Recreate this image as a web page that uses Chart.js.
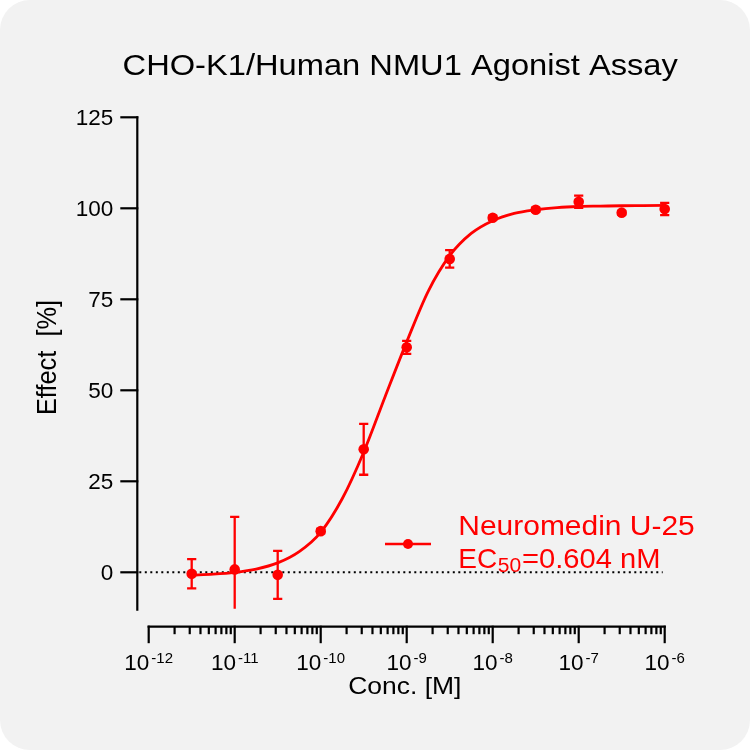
<!DOCTYPE html>
<html>
<head>
<meta charset="utf-8">
<script src="https://cdn.jsdelivr.net/npm/chart.js@4.4.1/dist/chart.umd.min.js"></script>
<style>
html,body{margin:0;padding:0;background:#ffffff;}
#wrap{width:750px;height:750px;position:relative;}
</style>
</head>
<body>
<div id="wrap"><canvas id="c" width="750" height="750"></canvas></div>
<script>
// ---------------- data ----------------
const chartTitle = 'CHO-K1/Human NMU1 Agonist Assay';
const xAxisTitle = 'Conc. [M]';
const yAxisTitle = 'Effect  [%]';
const seriesName = 'Neuromedin U-25';
const ec50Parts = ['EC', '50', '=0.604 nM'];

const concentrations = [3.162e-12, 1e-11, 3.162e-11, 1e-10, 3.162e-10, 1e-9, 3.162e-9, 1e-8, 3.162e-8, 1e-7, 3.162e-7, 1e-6];
const effectMean     = [-0.4, 0.8, -0.7, 11.3, 33.8, 61.8, 86.1, 97.4, 99.6, 101.8, 98.8, 99.8];
const effectError    = [4.0, 14.4, 6.6, 0.6, 7.0, 1.8, 2.4, 0.6, 0.6, 1.7, 0.5, 1.7];

const fitConcentrations = [3.162e-12, 5.623e-12, 1e-11, 1.778e-11, 3.162e-11, 5.623e-11, 1e-10, 1.778e-10, 3.162e-10, 5.623e-10, 1e-9, 1.778e-9, 3.162e-9, 5.623e-9, 1e-8, 1.778e-8, 3.162e-8, 5.623e-8, 1e-7, 1.778e-7, 3.162e-7, 5.623e-7, 1e-6];
const fitEffect         = [-0.8, -0.5, 0.0, 0.9, 2.6, 5.7, 11.0, 20.2, 33.0, 48.3, 63.3, 77.2, 87.0, 93.1, 96.6, 98.6, 99.6, 100.2, 100.5, 100.6, 100.7, 100.75, 100.8];

const xTickExponents = [-12, -11, -10, -9, -8, -7, -6];
const yTickValues = [0, 25, 50, 75, 100, 125];
const xMin = 1e-12, xMax = 1e-6, yMin = -10, yMax = 125;

// ---------------- styling helpers ----------------
const FONT = 'Arial, "Liberation Sans", Helvetica, sans-serif';
const RED = '#ff0000';
const INK = '#000000';

function drawText(ctx, s, x, y, size, align, sx, color) {
  ctx.save();
  ctx.font = size + 'px ' + FONT;
  ctx.fillStyle = color || INK;
  ctx.textBaseline = 'alphabetic';
  ctx.textAlign = 'left';
  const w = ctx.measureText(s).width * (sx || 1);
  let x0 = x;
  if (align === 'center') x0 = x - w / 2;
  else if (align === 'right') x0 = x - w;
  ctx.translate(x0, y);
  ctx.scale(sx || 1, 1);
  ctx.fillText(s, 0, 0);
  ctx.restore();
  return w;
}
function textWidth(ctx, s, size) {
  ctx.save(); ctx.font = size + 'px ' + FONT;
  const w = ctx.measureText(s).width; ctx.restore(); return w;
}

const backgroundPlugin = {
  id: 'bg',
  beforeDraw(chart) {
    const ctx = chart.ctx, W = chart.width, H = chart.height, r = 30;
    ctx.save();
    ctx.fillStyle = '#ffffff';
    ctx.fillRect(0, 0, W, H);
    ctx.fillStyle = '#f2f2f2';
    ctx.beginPath();
    ctx.moveTo(r, 0); ctx.lineTo(W - r, 0); ctx.arcTo(W, 0, W, r, r);
    ctx.lineTo(W, H - r); ctx.arcTo(W, H, W - r, H, r);
    ctx.lineTo(r, H); ctx.arcTo(0, H, 0, H - r, r);
    ctx.lineTo(0, r); ctx.arcTo(0, 0, r, 0, r);
    ctx.closePath(); ctx.fill();
    ctx.restore();
  }
};

const underlayPlugin = {
  id: 'underlay',
  beforeDatasetsDraw(chart) {
    const ctx = chart.ctx, xs = chart.scales.x, ys = chart.scales.y;
    const yAxisX = xs.left - 11.4;
    // dotted zero line
    ctx.save();
    ctx.strokeStyle = '#000000';
    ctx.lineWidth = 2;
    ctx.setLineDash([2, 3.5]);
    const y0 = ys.getPixelForValue(0);
    ctx.beginPath(); ctx.moveTo(yAxisX + 2, y0); ctx.lineTo(xs.right - 2, y0); ctx.stroke();
    ctx.restore();
    // error bars
    ctx.save();
    ctx.beginPath();
    ctx.rect(0, 0, chart.width, ys.getPixelForValue(yMin));
    ctx.clip();
    ctx.strokeStyle = RED; ctx.lineWidth = 2.3;
    concentrations.forEach((c, i) => {
      const px = xs.getPixelForValue(c);
      const top = ys.getPixelForValue(effectMean[i] + effectError[i]);
      const bot = ys.getPixelForValue(effectMean[i] - effectError[i]);
      ctx.beginPath();
      ctx.moveTo(px, top); ctx.lineTo(px, bot);
      ctx.moveTo(px - 4.6, top); ctx.lineTo(px + 4.6, top);
      ctx.moveTo(px - 4.6, bot); ctx.lineTo(px + 4.6, bot);
      ctx.stroke();
    });
    ctx.restore();
  }
};

const axesPlugin = {
  id: 'axes',
  afterDraw(chart) {
    const ctx = chart.ctx, xs = chart.scales.x, ys = chart.scales.y;
    const yAxisX = xs.left - 11.4;
    const xAxisY = ys.getPixelForValue(yMin) + 18;
    ctx.save();
    ctx.strokeStyle = INK; ctx.lineWidth = 2.2; ctx.lineCap = 'butt';
    // y axis line
    ctx.beginPath();
    ctx.moveTo(yAxisX, ys.getPixelForValue(yMax) - 1.1);
    ctx.lineTo(yAxisX, ys.getPixelForValue(yMin) + 2);
    ctx.stroke();
    // y ticks & labels
    yTickValues.forEach(v => {
      const py = ys.getPixelForValue(v);
      ctx.beginPath(); ctx.moveTo(yAxisX - 17, py); ctx.lineTo(yAxisX + 1, py); ctx.stroke();
      drawText(ctx, String(v), yAxisX - 24, py + 7.9, 22.5, 'right', 1);
    });
    // x axis line
    ctx.beginPath();
    ctx.moveTo(xs.getPixelForValue(xMin) - 1.1, xAxisY);
    ctx.lineTo(xs.getPixelForValue(xMax) + 1.1, xAxisY);
    ctx.stroke();
    // x ticks
    xTickExponents.forEach((e, k) => {
      const major = Math.pow(10, e);
      const px = xs.getPixelForValue(major);
      ctx.beginPath(); ctx.moveTo(px, xAxisY - 1); ctx.lineTo(px, xAxisY + 16.5); ctx.stroke();
      if (k < xTickExponents.length - 1) {
        for (let m = 2; m <= 9; m++) {
          const mx = xs.getPixelForValue(m * major);
          ctx.beginPath(); ctx.moveTo(mx, xAxisY); ctx.lineTo(mx, xAxisY + 7.5); ctx.stroke();
        }
      }
      // label 10^e
      const base = '10', exp = String(e);
      const wb = textWidth(ctx, base, 22.5), we = textWidth(ctx, exp, 15);
      const total = wb + 2 + we;
      const x0 = px - total / 2;
      drawText(ctx, base, x0, xAxisY + 43, 22.5, 'left', 1);
      drawText(ctx, exp, x0 + wb + 2, xAxisY + 36.5, 15, 'left', 1);
    });
    ctx.restore();

    // titles
    drawText(ctx, chartTitle, 400.2, 75, 29, 'center', 1.126);
    drawText(ctx, xAxisTitle, 404.8, 694, 24.5, 'center', 1.08);
    ctx.save();
    ctx.translate(56, 357.5);
    ctx.rotate(-Math.PI / 2);
    drawText(ctx, yAxisTitle, 0, 0, 27, 'center', 0.94);
    ctx.restore();

    // legend
    ctx.save();
    ctx.strokeStyle = RED; ctx.lineWidth = 2.6;
    ctx.beginPath(); ctx.moveTo(385, 544); ctx.lineTo(431, 544); ctx.stroke();
    ctx.fillStyle = RED;
    ctx.beginPath(); ctx.arc(408, 544, 5, 0, Math.PI * 2); ctx.fill();
    ctx.restore();
    drawText(ctx, seriesName, 458.3, 535, 28, 'left', 1.07, RED);
    let lx = 458.3;
    lx += drawText(ctx, ec50Parts[0], lx, 567.7, 28, 'left', 1, RED);
    lx += drawText(ctx, ec50Parts[1], lx + 0.5, 571.7, 20, 'left', 1.05, RED) + 1.5;
    drawText(ctx, ec50Parts[2], lx, 567.7, 28, 'left', 1.04, RED);
  }
};

const ctx = document.getElementById('c').getContext('2d');
new Chart(ctx, {
  type: 'scatter',
  data: {
    datasets: [
      {
        label: seriesName + ' fit',
        data: fitConcentrations.map((x, i) => ({ x: x, y: fitEffect[i] })),
        showLine: true,
        borderColor: RED,
        borderWidth: 2.8,
        pointRadius: 0,
        cubicInterpolationMode: 'monotone',
        clip: false,
        order: 2
      },
      {
        label: seriesName,
        data: concentrations.map((x, i) => ({ x: x, y: effectMean[i] })),
        showLine: false,
        pointRadius: 5.3,
        pointHoverRadius: 5.3,
        backgroundColor: RED,
        borderColor: RED,
        borderWidth: 0,
        clip: false,
        order: 1
      }
    ]
  },
  options: {
    responsive: false,
    maintainAspectRatio: false,
    animation: false,
    events: [],
    layout: { padding: { left: 148.7, right: 85.3, top: 117.3, bottom: 141.3 } },
    scales: {
      x: { type: 'logarithmic', min: xMin, max: xMax, display: false },
      y: { type: 'linear', min: yMin, max: yMax, display: false }
    },
    plugins: { legend: { display: false }, tooltip: { enabled: false }, title: { display: false } }
  },
  plugins: [backgroundPlugin, underlayPlugin, axesPlugin]
});
</script>
</body>
</html>
